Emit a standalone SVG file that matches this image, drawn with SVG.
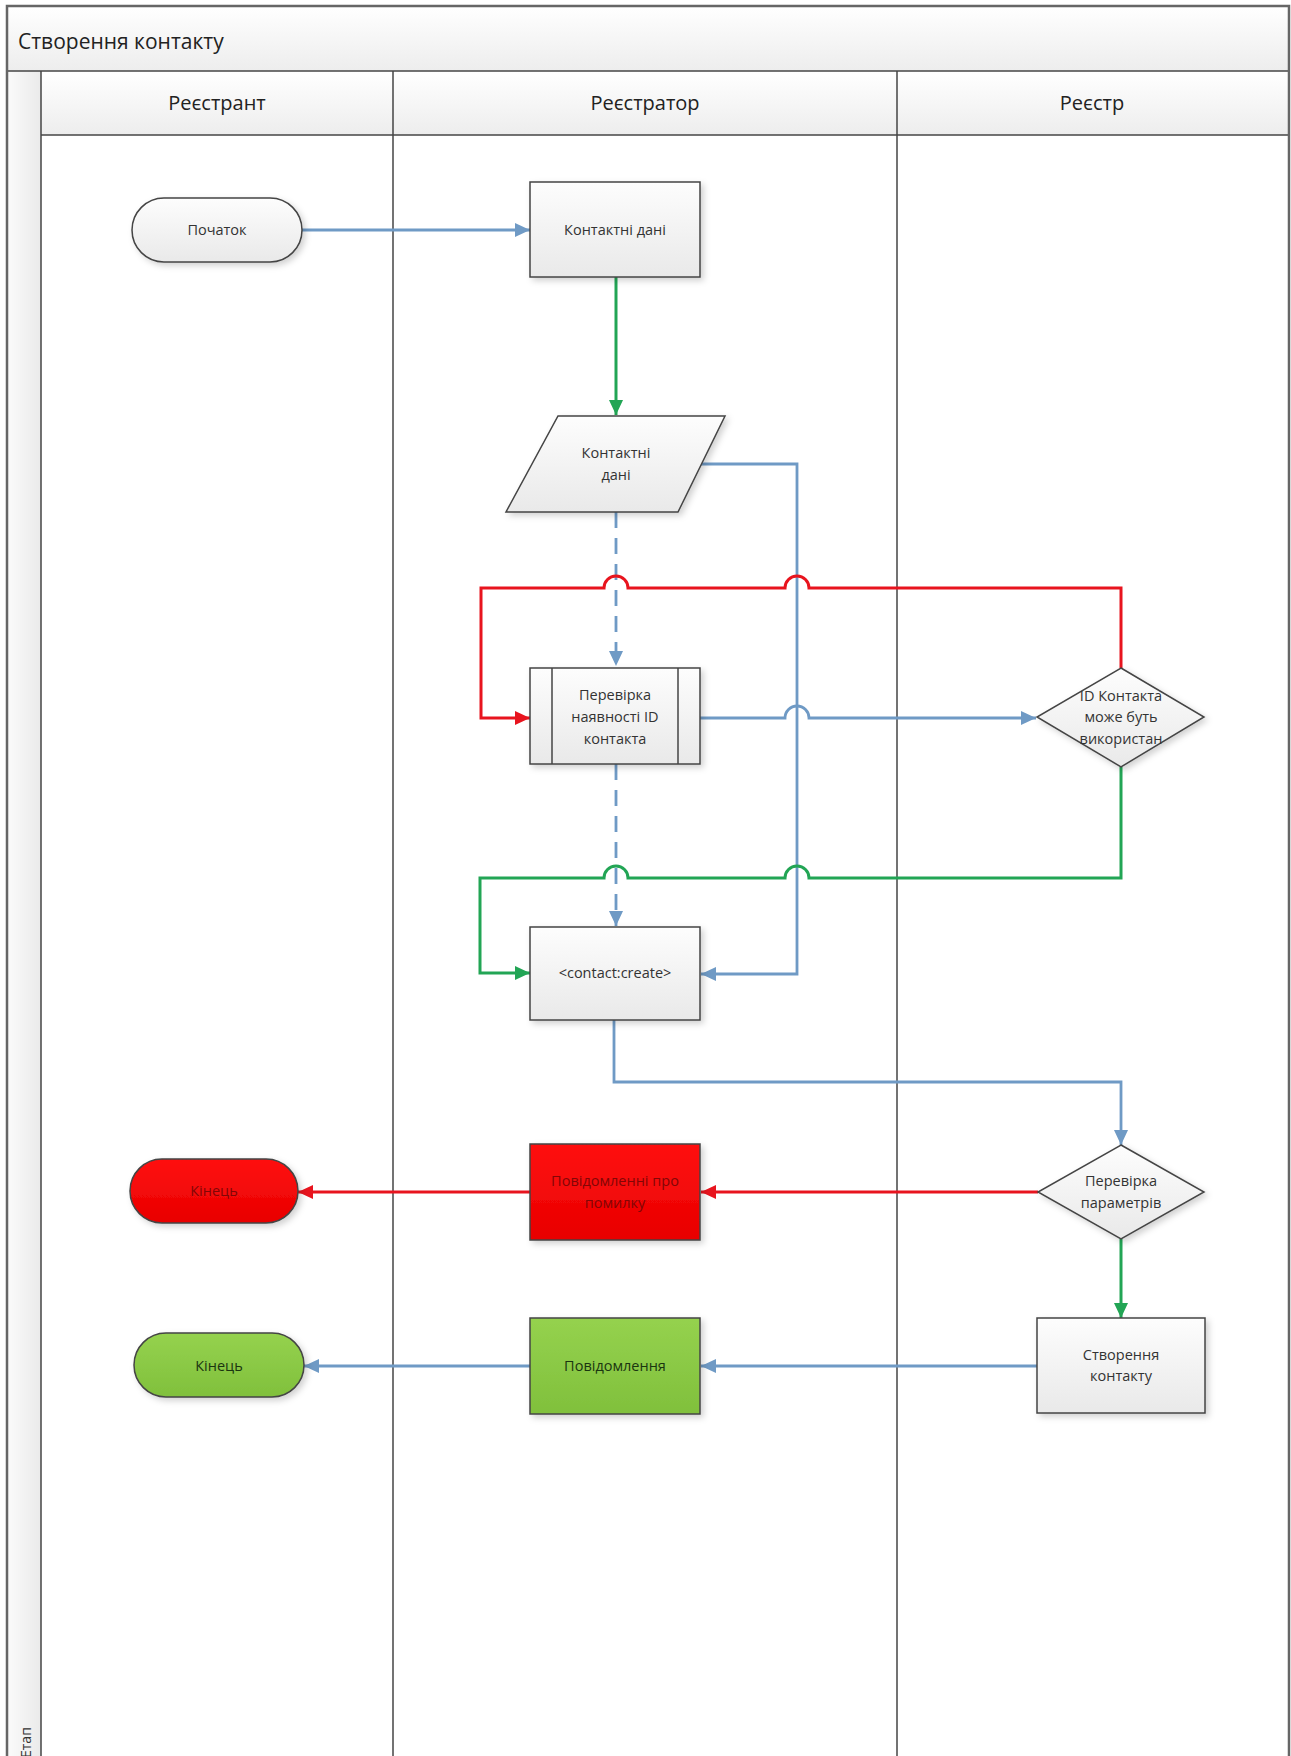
<svg xmlns="http://www.w3.org/2000/svg" width="1291" height="1756" viewBox="0 0 1291 1756">
<style>
  text { font-family: "Open Sans", "Noto Sans", "Liberation Sans", sans-serif; }
  .title { font-size: 21px; fill: #222; }
  .hdr { font-size: 20px; fill: #222; text-anchor: middle; }
  .lbl { font-size: 14.5px; fill: #333; text-anchor: middle; }
  .lblr { font-size: 14.5px; fill: #820606; text-anchor: middle; }
  .lblg { font-size: 14.5px; fill: #1a3510; text-anchor: middle; }
  .node { fill: url(#gGray); stroke: #444; stroke-width: 1.5; filter: url(#sh); }
  .nodeR { fill: url(#gRed); stroke: #444; stroke-width: 1.5; filter: url(#sh); }
  .nodeG { fill: url(#gGreen); stroke: #444; stroke-width: 1.5; filter: url(#sh); }
  .lane { stroke: #444; stroke-width: 1.5; fill: none; }
  .border { stroke: #666; stroke-width: 2.5; fill: none; }
  .cb { stroke: #6f9ac5; stroke-width: 2.8; fill: none; }
  .cr { stroke: #e8141e; stroke-width: 3; fill: none; }
  .cg { stroke: #22a555; stroke-width: 3; fill: none; }
  .dash { stroke-dasharray: 16 10; }
</style>
<defs>
  <linearGradient id="gGray" x1="0" y1="0" x2="0" y2="1">
    <stop offset="0" stop-color="#fdfdfd"/>
    <stop offset="1" stop-color="#e9e9e9"/>
  </linearGradient>
  <linearGradient id="gHdr" x1="0" y1="0" x2="0" y2="1">
    <stop offset="0" stop-color="#ffffff"/>
    <stop offset="1" stop-color="#ededed"/>
  </linearGradient>
  <linearGradient id="gCol" x1="0" y1="0" x2="1" y2="0">
    <stop offset="0" stop-color="#fbfbfb"/>
    <stop offset="1" stop-color="#eaeaea"/>
  </linearGradient>
  <linearGradient id="gRed" x1="0" y1="0" x2="0" y2="1">
    <stop offset="0" stop-color="#ff1010"/>
    <stop offset="1" stop-color="#e80000"/>
  </linearGradient>
  <linearGradient id="gGreen" x1="0" y1="0" x2="0" y2="1">
    <stop offset="0" stop-color="#95d24e"/>
    <stop offset="1" stop-color="#80c03c"/>
  </linearGradient>
  <filter id="sh" x="-20%" y="-20%" width="150%" height="150%">
    <feDropShadow dx="3" dy="3" stdDeviation="3" flood-color="#000" flood-opacity="0.18"/>
  </filter>
  <marker id="aB" markerUnits="userSpaceOnUse" markerWidth="16" markerHeight="16" refX="15" refY="8" orient="auto">
    <path d="M0,1 L15,8 L0,15 z" fill="#6f9ac5"/>
  </marker>
  <marker id="aR" markerUnits="userSpaceOnUse" markerWidth="16" markerHeight="16" refX="15" refY="8" orient="auto">
    <path d="M0,1 L15,8 L0,15 z" fill="#e8141e"/>
  </marker>
  <marker id="aG" markerUnits="userSpaceOnUse" markerWidth="16" markerHeight="16" refX="15" refY="8" orient="auto">
    <path d="M0,1 L15,8 L0,15 z" fill="#22a555"/>
  </marker>
</defs>

<rect x="0" y="0" width="1291" height="1756" fill="#ffffff"/>

<g id="pool">
  <rect x="7" y="6" width="1282" height="65" fill="url(#gHdr)"/>
  <rect x="41" y="71" width="1248" height="64" fill="url(#gHdr)"/>
  <rect x="7" y="71" width="34" height="1690" fill="url(#gCol)"/>
  <text class="title" x="18" y="49">Створення контакту</text>
  <text class="hdr" x="217" y="110">Реєстрант</text>
  <text class="hdr" x="645" y="110">Реєстратор</text>
  <text class="hdr" x="1092" y="110">Реєстр</text>
  <text x="31" y="1758" transform="rotate(-90 31 1758)" style="font-size:14px;fill:#333">Етап</text>
  <line class="lane" x1="7" y1="71" x2="1289" y2="71"/>
  <line class="lane" x1="41" y1="135" x2="1289" y2="135"/>
  <line class="lane" x1="41" y1="71" x2="41" y2="1760"/>
  <line class="lane" x1="393" y1="71" x2="393" y2="1760"/>
  <line class="lane" x1="897" y1="71" x2="897" y2="1760"/>
  <path class="border" d="M7,1760 L7,6 L1289,6 L1289,1760"/>
</g>

<g id="connectors">
  <path class="cb" d="M302,230 L530,230" marker-end="url(#aB)"/>
  <path class="cg" d="M616,277 L616,415" marker-end="url(#aG)"/>
  <path class="cb dash" d="M616,512 L616,666" marker-end="url(#aB)"/>
  <path class="cb" d="M700,464 L797,464 L797,974 L701,974" marker-end="url(#aB)"/>
  <path class="cr" d="M1121,668 L1121,588 L809,588 A12,12 0 0 0 785,588 L628,588 A12,12 0 0 0 604,588 L481,588 L481,718 L530,718" marker-end="url(#aR)"/>
  <path class="cb" d="M700,718 L785,718 A12,12 0 0 1 809,718 L1036,718" marker-end="url(#aB)"/>
  <path class="cb dash" d="M616,764 L616,926" marker-end="url(#aB)"/>
  <path class="cg" d="M1121,767 L1121,878 L809,878 A12,12 0 0 0 785,878 L628,878 A12,12 0 0 0 604,878 L480,878 L480,973 L530,973" marker-end="url(#aG)"/>
  <path class="cb" d="M614,1020 L614,1082 L1121,1082 L1121,1145" marker-end="url(#aB)"/>
  <path class="cr" d="M1038,1192 L701,1192" marker-end="url(#aR)"/>
  <path class="cr" d="M530,1192 L298,1192" marker-end="url(#aR)"/>
  <path class="cg" d="M1121,1239 L1121,1318" marker-end="url(#aG)"/>
  <path class="cb" d="M1037,1366 L701,1366" marker-end="url(#aB)"/>
  <path class="cb" d="M530,1366 L304,1366" marker-end="url(#aB)"/>
</g>

<g id="start">
  <rect class="node" x="132" y="198" width="170" height="64" rx="32" ry="32"/>
  <text class="lbl" x="217" y="235">Початок</text>
</g>

<g id="contact-data-process">
  <rect class="node" x="530" y="182" width="170" height="95"/>
  <text class="lbl" x="615" y="235">Контактні дані</text>
</g>

<g id="contact-data-io">
  <polygon class="node" points="558,416 725,416 678,512 506,512"/>
  <text class="lbl" x="616" y="458">Контактні</text>
  <text class="lbl" x="616" y="480">дані</text>
</g>

<g id="check-id">
  <rect class="node" x="530" y="668" width="170" height="96"/>
  <line x1="552" y1="668" x2="552" y2="764" stroke="#444" stroke-width="1.5"/>
  <line x1="678" y1="668" x2="678" y2="764" stroke="#444" stroke-width="1.5"/>
  <text class="lbl" x="615" y="700">Перевірка</text>
  <text class="lbl" x="615" y="722">наявності ID</text>
  <text class="lbl" x="615" y="744">контакта</text>
</g>

<g id="id-decision">
  <polygon class="node" points="1121,668 1204,717 1121,767 1037,717"/>
  <text class="lbl" x="1121" y="701">ID Контакта</text>
  <text class="lbl" x="1121" y="722">може буть</text>
  <text class="lbl" x="1121" y="744">використан</text>
</g>

<g id="contact-create">
  <rect class="node" x="530" y="927" width="170" height="93"/>
  <text class="lbl" x="615" y="978">&lt;contact:create&gt;</text>
</g>

<g id="params-decision">
  <polygon class="node" points="1121,1145 1204,1192 1121,1239 1038,1192"/>
  <text class="lbl" x="1121" y="1186">Перевірка</text>
  <text class="lbl" x="1121" y="1208">параметрів</text>
</g>

<g id="error-message">
  <rect class="nodeR" x="530" y="1144" width="170" height="96"/>
  <text class="lblr" x="615" y="1186">Повідомленні про</text>
  <text class="lblr" x="615" y="1208">помилку</text>
</g>

<g id="end-error">
  <rect class="nodeR" x="130" y="1159" width="168" height="64" rx="32" ry="32"/>
  <text class="lblr" x="214" y="1196">Кінець</text>
</g>

<g id="create-contact">
  <rect class="node" x="1037" y="1318" width="168" height="95"/>
  <text class="lbl" x="1121" y="1360">Створення</text>
  <text class="lbl" x="1121" y="1381">контакту</text>
</g>

<g id="message">
  <rect class="nodeG" x="530" y="1318" width="170" height="96"/>
  <text class="lblg" x="615" y="1371">Повідомлення</text>
</g>

<g id="end-ok">
  <rect class="nodeG" x="134" y="1333" width="170" height="64" rx="32" ry="32"/>
  <text class="lblg" x="219" y="1371">Кінець</text>
</g>
</svg>
